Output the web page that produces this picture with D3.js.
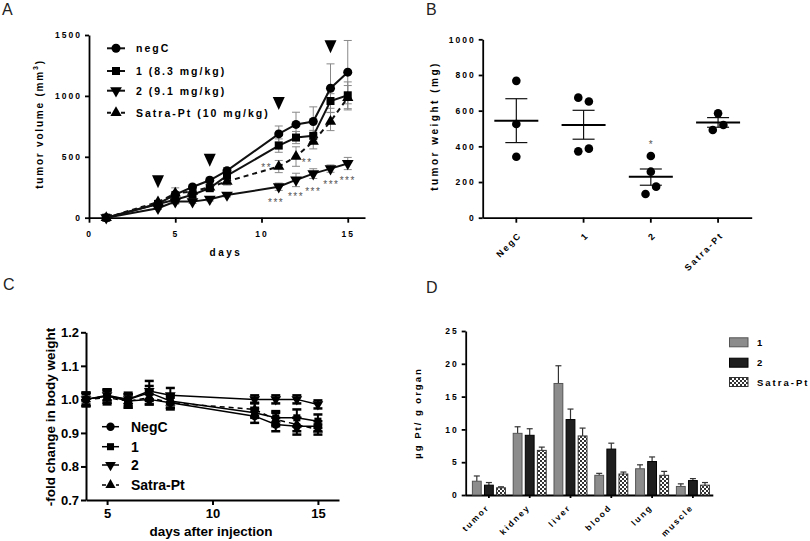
<!DOCTYPE html>
<html><head><meta charset="utf-8">
<script src="https://cdn.jsdelivr.net/npm/d3@7/dist/d3.min.js"></script>
<style>body{margin:0;background:#fff}svg{display:block}text{font-family:"Liberation Sans",Arial,sans-serif}</style>
</head><body><svg id="c" width="810" height="541"></svg>
<script>
// ---------- Panel A: tumor volume ----------
const daysA = [1,4,5,6,7,8,11,12,13,14,15];
const negC_A   = [0,115,190,252,307,386,688,766,790,1063,1195];
const negC_Ae  = [4,15,25,20,25,25,65,100,120,200,260];
const one_A    = [0,112,148,188,243,345,592,658,672,958,1005];
const one_Ae   = [4,15,20,25,30,30,55,50,45,60,110];
const two_A    = [0,78,132,132,152,186,254,310,362,403,445];
const two_Ae   = [4,10,20,15,15,15,30,55,40,30,50];
const satra_A  = [0,128,200,215,250,298,420,502,625,790,985];
const satra_Ae = [4,15,45,20,25,30,50,80,60,75,100];
const seriesNamesA = ["negC","1 (8.3 mg/kg)","2 (9.1 mg/kg)","Satra-Pt (10 mg/kg)"];
const injectionDays = [4,7,11,14];
const injectionMarkY = [241,419,884,1350];
const starDaysA = [10.3,12.65,10.85,12.0,13.0,14.05,15.0];
const starValsA = [420,455,128,175,220,275,312];
const starTextA = ["**","**","***","***","***","***","***"];
const ticksAy = [0,500,1000,1500];
const ticksAx = [0,5,10,15];

// ---------- Panel B: tumor weight ----------
const catsB = ["NegC","1","2","Satra-Pt"];
const pointsB = [[767,525,342],[673,651,372,387],[346,258,174,133],[585,520,492]];
const offsetsB = [[0,0,0],[-1,1,-1,1],[0,0,1,-1],[0,1,-1]];
const meanB = [544,520,230,533];
const semHiB = [667,602,273,561];
const semLoB = [421,440,182,507];
const starB = ["","","*",""];
const starBval = [0,0,420,0];
const ticksBy = [0,200,400,600,800,1000];

// ---------- Panel C: body weight ----------
const daysC = [4,5,6,7,8,12,13,14,15];
const negC_C   = [1.00,1.01,0.995,1.00,0.99,0.95,0.925,0.92,0.92];
const negC_Ce  = [0.02,0.02,0.02,0.015,0.02,0.02,0.02,0.025,0.015];
const one_C    = [1.00,1.01,1.00,1.02,0.995,0.96,0.945,0.945,0.935];
const one_Ce   = [0.02,0.02,0.02,0.02,0.02,0.015,0.02,0.025,0.02];
const two_C    = [1.00,1.012,1.00,1.025,1.012,1.00,1.00,1.00,0.985];
const two_Ce   = [0.015,0.015,0.015,0.03,0.022,0.012,0.012,0.012,0.012];
const satra_C  = [1.00,1.005,0.995,1.005,0.99,0.97,0.94,0.925,0.91];
const satra_Ce = [0.02,0.02,0.02,0.02,0.015,0.02,0.02,0.02,0.015];
const seriesNamesC = ["NegC","1","2","Satra-Pt"];
const ticksCy = [0.7,0.8,0.9,1.0,1.1,1.2];
const ticksCx = [5,10,15];

// ---------- Panel D: Pt distribution ----------
const organs = ["tumor","kidney","liver","blood","lung","muscle"];
const seriesD = ["1","2","Satra-Pt"];
const d_one    = [2.1,9.4,17.0,3.0,4.0,1.3];
const d_oneE   = [0.8,1.0,2.7,0.3,0.6,0.4];
const d_two    = [1.5,9.1,11.5,7.0,5.1,2.2];
const d_twoE   = [0.4,1.0,1.6,0.9,0.7,0.3];
const d_satra  = [1.1,6.8,9.0,3.2,3.0,1.5];
const d_satraE = [0.15,0.5,1.2,0.3,0.6,0.4];
const ticksDy = [0,5,10,15,20,25];

const svg = d3.select("#c");
const defs = svg.append("defs");
const pat = defs.append("pattern").attr("id","chk").attr("width",4).attr("height",4).attr("patternUnits","userSpaceOnUse");
pat.append("rect").attr("width",4).attr("height",4).attr("fill","#fff");
pat.append("rect").attr("width",2).attr("height",2).attr("fill","#333");
pat.append("rect").attr("x",2).attr("y",2).attr("width",2).attr("height",2).attr("fill","#333");

function styleAxis(g, fs, ls, sw){
  g.select(".domain").attr("stroke","#000").attr("stroke-width",sw);
  g.selectAll(".tick line").attr("stroke","#000").attr("stroke-width",sw);
  g.selectAll(".tick text").attr("fill","#000").attr("font-weight","bold")
    .attr("font-size",fs).style("letter-spacing",ls+"px")
    .attr("font-family","'Liberation Sans',Arial,sans-serif");
}
const symGen = {
  circle: d3.symbol().type(d3.symbolCircle),
  square: d3.symbol().type(d3.symbolSquare),
  tri: d3.symbol().type(d3.symbolTriangle),
  down: d3.symbol().type(d3.symbolTriangle)
};
function drawSym(g, type, x, y, size){
  g.append("path").attr("d", symGen[type].size(size)())
   .attr("transform", `translate(${x},${y})` + (type==="down"?" rotate(180)":""))
   .attr("fill","#000");
}
function panelLabel(t,x,y){
  svg.append("text").attr("x",x).attr("y",y).text(t).attr("font-size",16).attr("fill","#222");
}
panelLabel("A",2,15); panelLabel("B",426,15); panelLabel("C",3,290); panelLabel("D",426,293);
const intFmt = d3.format("d");

// ===== Panel A =====
{
  const x = d3.scaleLinear().domain([0,16]).range([89,365]);
  const y = d3.scaleLinear().domain([0,1500]).range([217.7,35]);
  const g = svg.append("g");
  const ya = g.append("g").attr("transform","translate(89,0)")
    .call(d3.axisLeft(y).tickValues(ticksAy).tickFormat(intFmt).tickSize(4).tickSizeOuter(0).tickPadding(3));
  styleAxis(ya,8.5,2,1.8);
  const xa = g.append("g").attr("transform","translate(0,217.7)")
    .call(d3.axisBottom(x).tickValues(ticksAx).tickFormat(intFmt).tickSize(5).tickSizeOuter(0).tickPadding(8));
  styleAxis(xa,8.5,2,1.8);
  g.append("text").attr("x",226).attr("y",256).attr("text-anchor","middle")
    .attr("font-weight","bold").attr("font-size",10).style("letter-spacing","2.5px").text("days");
  const yl = g.append("text").attr("transform","translate(43,124) rotate(-90)").attr("text-anchor","middle")
    .attr("font-weight","bold").attr("font-size",10).style("letter-spacing","1.8px");
  yl.append("tspan").text("tumor volume (mm");
  yl.append("tspan").text("3").attr("font-size",7).attr("dy",-5);
  yl.append("tspan").text(")").attr("dy",5);

  const series = [
    {v:negC_A,e:negC_Ae,sym:"circle",dash:null,size:64},
    {v:one_A,e:one_Ae,sym:"square",dash:null,size:64},
    {v:two_A,e:two_Ae,sym:"down",dash:null,size:60},
    {v:satra_A,e:satra_Ae,sym:"tri",dash:"5,4",size:55}
  ];
  series.forEach(s=>{
    daysA.forEach((d,i)=>{
      const cx=x(d), lo=y(s.v[i]-s.e[i]), hi=y(s.v[i]+s.e[i]);
      g.append("line").attr("x1",cx).attr("x2",cx).attr("y1",lo).attr("y2",hi).attr("stroke","#888").attr("stroke-width",1);
      [lo,hi].forEach(yy=>g.append("line").attr("x1",cx-4).attr("x2",cx+4).attr("y1",yy).attr("y2",yy).attr("stroke","#888").attr("stroke-width",1));
    });
  });
  const line = d3.line().x((d,i)=>x(daysA[i])).y(d=>y(d));
  series.forEach(s=>{
    g.append("path").attr("d",line(s.v)).attr("fill","none").attr("stroke","#111").attr("stroke-width",2)
      .attr("stroke-dasharray",s.dash);
    daysA.forEach((d,i)=>drawSym(g,s.sym,x(d),y(s.v[i]),s.size));
  });
  injectionDays.forEach((d,i)=>{
    const cx=x(d), by=y(injectionMarkY[i]);
    g.append("path").attr("d",`M${cx-6},${by-13}L${cx+6},${by-13}L${cx},${by}Z`).attr("fill","#000");
  });
  starDaysA.forEach((d,i)=>{
    g.append("text").attr("x",x(d)).attr("y",y(starValsA[i])+4).attr("text-anchor","middle")
      .attr("font-size",10).attr("fill","#555").style("letter-spacing","1.5px").text(starTextA[i]);
  });
  const ly=[48.3,71,90.7,112.7];
  series.forEach((s,i)=>{
    g.append("line").attr("x1",107).attr("x2",125).attr("y1",ly[i]).attr("y2",ly[i]).attr("stroke","#111").attr("stroke-width",2).attr("stroke-dasharray",s.dash?"4,3":null);
    drawSym(g,s.sym,116,ly[i],s.size);
    g.append("text").attr("x",136).attr("y",ly[i]+4).attr("font-weight","bold").attr("font-size",10.5)
      .style("letter-spacing","2px").text(seriesNamesA[i]);
  });
}

// ===== Panel B =====
{
  const x = d3.scaleBand().domain(catsB).range([482.7,751.7]);
  const y = d3.scaleLinear().domain([0,1000]).range([217.7,39.3]);
  const g = svg.append("g");
  const ya = g.append("g").attr("transform","translate(482.7,0)")
    .call(d3.axisLeft(y).tickValues(ticksBy).tickFormat(intFmt).tickSize(4).tickSizeOuter(0).tickPadding(3));
  styleAxis(ya,8.5,2,1.8);
  const xa = g.append("g").attr("transform","translate(0,217.7)")
    .call(d3.axisBottom(x).tickSize(5).tickSizeOuter(0));
  styleAxis(xa,9,2,1.8);
  xa.selectAll(".tick text").attr("text-anchor","end").attr("dy",null).attr("y",null)
    .attr("transform","translate(6,18) rotate(-45)");
  g.append("text").attr("transform","translate(438,126) rotate(-90)").attr("text-anchor","middle")
    .attr("font-weight","bold").attr("font-size",10).style("letter-spacing","2.5px").text("tumor weight (mg)");
  catsB.forEach((c,i)=>{
    const cx = x(c)+x.bandwidth()/2;
    g.append("line").attr("x1",cx).attr("x2",cx).attr("y1",y(semLoB[i])).attr("y2",y(semHiB[i])).attr("stroke","#111").attr("stroke-width",1.2);
    [semLoB[i],semHiB[i]].forEach(v=>g.append("line").attr("x1",cx-11).attr("x2",cx+11).attr("y1",y(v)).attr("y2",y(v)).attr("stroke","#111").attr("stroke-width",1.2));
    g.append("line").attr("x1",cx-22).attr("x2",cx+22).attr("y1",y(meanB[i])).attr("y2",y(meanB[i])).attr("stroke","#000").attr("stroke-width",2);
    pointsB[i].forEach((v,j)=>{
      g.append("circle").attr("cx",cx+offsetsB[i][j]*5.3).attr("cy",y(v)).attr("r",4.3).attr("fill","#000");
    });
    if(starB[i]) g.append("text").attr("x",cx).attr("y",y(starBval[i])+5).attr("text-anchor","middle").attr("font-size",10).attr("fill","#555").text(starB[i]);
  });
}

// ===== Panel C =====
{
  const x = d3.scaleLinear().domain([4,16]).range([86,339]);
  const y = d3.scaleLinear().domain([0.7,1.2]).range([500,332.3]);
  const g = svg.append("g");
  const ya = g.append("g").attr("transform","translate(86,0)")
    .call(d3.axisLeft(y).tickValues(ticksCy).tickFormat(d3.format(".1f")).tickSize(5).tickSizeOuter(0).tickPadding(2));
  styleAxis(ya,13,0,2);
  const xa = g.append("g").attr("transform","translate(0,500)")
    .call(d3.axisBottom(x).tickValues(ticksCx).tickSize(5).tickSizeOuter(0).tickPadding(4));
  styleAxis(xa,13,0,2);
  g.append("text").attr("x",211).attr("y",536).attr("text-anchor","middle").attr("font-weight","bold").attr("font-size",13.5).text("days after injection");
  g.append("text").attr("transform","translate(55,417) rotate(-90)").attr("text-anchor","middle").attr("font-weight","bold").attr("font-size",13.5).text("-fold change in body weight");
  const series = [
    {v:negC_C,e:negC_Ce,sym:"circle",dash:null,size:55},
    {v:one_C,e:one_Ce,sym:"square",dash:null,size:50},
    {v:two_C,e:two_Ce,sym:"down",dash:null,size:50},
    {v:satra_C,e:satra_Ce,sym:"tri",dash:"5,4",size:45}
  ];
  const line = d3.line().x((d,i)=>x(daysC[i])).y(d=>y(d));
  series.forEach(s=>{
    g.append("path").attr("d",line(s.v)).attr("fill","none").attr("stroke","#000").attr("stroke-width",1.5).attr("stroke-dasharray",s.dash);
  });
  series.forEach(s=>{
    daysC.forEach((d,i)=>{
      const cx=x(d), lo=y(s.v[i]-s.e[i]), hi=y(s.v[i]+s.e[i]);
      g.append("line").attr("x1",cx).attr("x2",cx).attr("y1",lo).attr("y2",hi).attr("stroke","#000").attr("stroke-width",2);
      [lo,hi].forEach(yy=>g.append("line").attr("x1",cx-4.5).attr("x2",cx+4.5).attr("y1",yy).attr("y2",yy).attr("stroke","#000").attr("stroke-width",2.5));
      drawSym(g,s.sym,cx,y(s.v[i]),s.size);
    });
  });
  const ly=[426.7,446.7,465,485];
  series.forEach((s,i)=>{
    g.append("line").attr("x1",102).attr("x2",119).attr("y1",ly[i]).attr("y2",ly[i]).attr("stroke","#000").attr("stroke-width",1.5).attr("stroke-dasharray",s.dash?"4,3":null);
    drawSym(g,s.sym,110.5,ly[i],s.size);
    g.append("text").attr("x",131).attr("y",ly[i]+5).attr("font-weight","bold").attr("font-size",14).text(seriesNamesC[i]);
  });
}

// ===== Panel D =====
{
  const x = d3.scaleBand().domain(organs).range([468.5,713.3]);
  const y = d3.scaleLinear().domain([0,25]).range([495,331]);
  const g = svg.append("g");
  const ya = g.append("g").attr("transform","translate(465.7,0)")
    .call(d3.axisLeft(y).tickValues(ticksDy).tickFormat(intFmt).tickSize(4).tickSizeOuter(0).tickPadding(3));
  styleAxis(ya,8.5,2,1.8);
  const xa = g.append("g").attr("transform","translate(0,495)")
    .call(d3.axisBottom(x).tickSize(3).tickSizeOuter(0));
  xa.select(".domain").attr("d","M465.7,0.5H713.3");
  styleAxis(xa,8.5,2,1.8);
  xa.selectAll(".tick text").attr("text-anchor","end").attr("dy",null).attr("y",null)
    .attr("transform","translate(1,13) rotate(-45)");
  g.append("text").attr("transform","translate(421,413) rotate(-90)").attr("text-anchor","middle")
    .attr("font-weight","bold").attr("font-size",9.5).style("letter-spacing","2px").text("µg Pt/ g organ");
  const sub = d3.scaleBand().domain(seriesD).range([-16.5,16.5]).paddingInner(0.27);
  const vals = [d_one,d_two,d_satra], errs=[d_oneE,d_twoE,d_satraE];
  const fills = ["#8c8c8c","#1e1e1e","url(#chk)"], strokes=["#555","#000","#333"];
  organs.forEach((o,i)=>{
    const c = x(o)+x.bandwidth()/2;
    seriesD.forEach((s,k)=>{
      const bx = c+sub(s), bw=sub.bandwidth(), v=vals[k][i], e=errs[k][i];
      const cx = bx+bw/2;
      g.append("line").attr("x1",cx).attr("x2",cx).attr("y1",y(v)).attr("y2",y(v+e)).attr("stroke","#333").attr("stroke-width",1.2);
      g.append("line").attr("x1",cx-3).attr("x2",cx+3).attr("y1",y(v+e)).attr("y2",y(v+e)).attr("stroke","#333").attr("stroke-width",1.2);
      g.append("rect").attr("x",bx).attr("y",y(v)).attr("width",bw).attr("height",y(0)-y(v))
        .attr("fill",fills[k]).attr("stroke",strokes[k]).attr("stroke-width",1);
    });
  });
  const ly=[342.3,362.7,382];
  seriesD.forEach((s,k)=>{
    g.append("rect").attr("x",729.5).attr("y",ly[k]-4.5).attr("width",18.5).attr("height",9).attr("fill",fills[k]).attr("stroke",strokes[k]);
    g.append("text").attr("x",757).attr("y",ly[k]+3.5).attr("font-weight","bold").attr("font-size",9.5).style("letter-spacing","2px").text(s);
  });
}
</script></body></html>
